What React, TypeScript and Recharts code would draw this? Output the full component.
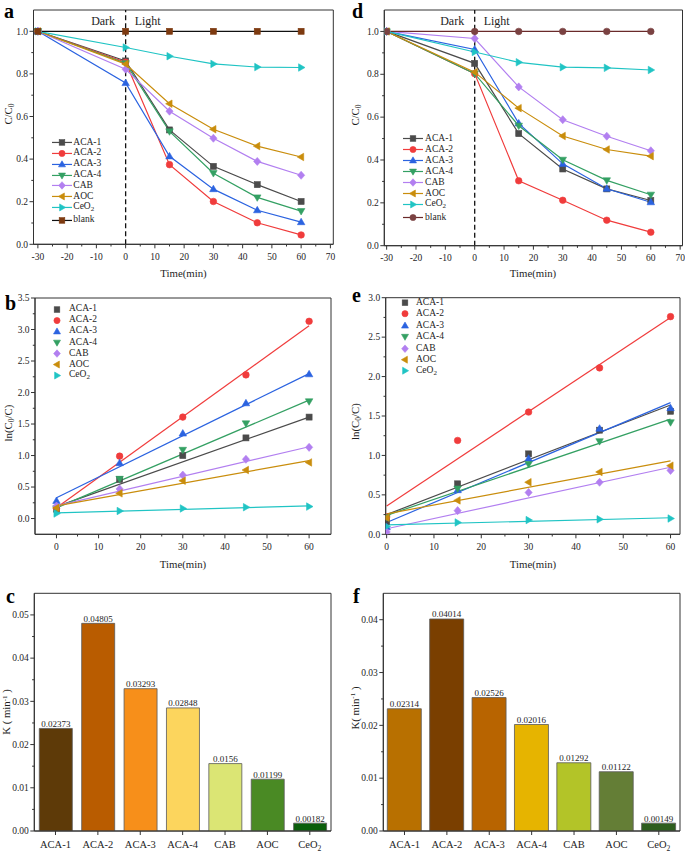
import React from 'react';
import {
  LineChart, Line, ComposedChart, Scatter, BarChart, Bar, Cell, LabelList,
  XAxis, YAxis, ReferenceLine, ReferenceArea, Legend,
} from 'recharts';

type Shape = 'square' | 'circle' | 'up' | 'down' | 'diamond' | 'left' | 'right';

const FONT = '"Liberation Serif", "Times New Roman", serif';
const INK = '#1e1e1e';
const AXIS = '#333';

const sampleNames = ['ACA-1', 'ACA-2', 'ACA-3', 'ACA-4', 'CAB', 'AOC', 'CeO2'];
const seriesColors = ['#4b4b4b', '#f03c3c', '#2b63e0', '#34a063', '#b27ff0', '#c98d0c', '#20c4c4'];
const seriesShapes: Shape[] = ['square', 'circle', 'up', 'down', 'diamond', 'left', 'right'];

// a / d : C/C0 vs time (dark from -30 min, light on at 0)
const timesAD = [-30, 0, 15, 30, 45, 60];
const ratioA = [
  [1.0, 0.861, 0.537, 0.366, 0.28, 0.201],
  [1.0, 0.855, 0.374, 0.201, 0.101, 0.044],
  [1.0, 0.757, 0.413, 0.259, 0.16, 0.104],
  [1.0, 0.85, 0.53, 0.334, 0.22, 0.156],
  [1.0, 0.822, 0.625, 0.498, 0.389, 0.324],
  [1.0, 0.846, 0.66, 0.54, 0.461, 0.41],
  [1.0, 0.924, 0.883, 0.847, 0.832, 0.83],
];
const blankA = [1, 1, 1, 1, 1, 1];
const ratioD = [
  [1.0, 0.851, 0.523, 0.358, 0.265, 0.211],
  [1.0, 0.803, 0.303, 0.212, 0.119, 0.063],
  [1.0, 0.916, 0.571, 0.382, 0.266, 0.203],
  [1.0, 0.803, 0.56, 0.401, 0.305, 0.238],
  [1.0, 0.967, 0.741, 0.588, 0.511, 0.443],
  [1.0, 0.81, 0.642, 0.512, 0.449, 0.418],
  [1.0, 0.904, 0.856, 0.833, 0.83, 0.82],
];
const blankD = [1, 1, 1, 1, 1, 1];

// b / e : ln(C0/C) points and fitted lines (value at 0 and 60 min)
const timesBE = [0, 15, 30, 45, 60];
const lnB = [
  [0.15, 0.62, 1.0, 1.28, 1.61],
  [0.16, 0.99, 1.61, 2.28, 3.13],
  [0.28, 0.88, 1.35, 1.83, 2.29],
  [0.16, 0.63, 1.09, 1.51, 1.86],
  [0.2, 0.47, 0.69, 0.94, 1.13],
  [0.17, 0.4, 0.6, 0.77, 0.89],
  [0.08, 0.12, 0.16, 0.18, 0.19],
];
const lnE = [
  [0.16, 0.64, 1.02, 1.32, 1.56],
  [0.22, 1.19, 1.55, 2.11, 2.76],
  [0.09, 0.56, 0.96, 1.34, 1.6],
  [0.22, 0.58, 0.89, 1.18, 1.42],
  [0.03, 0.3, 0.53, 0.66, 0.81],
  [0.21, 0.43, 0.66, 0.79, 0.87],
  [0.1, 0.15, 0.18, 0.19, 0.2],
];
const fitTimes = [0, 60];
const fitB = [[0.19, 1.61], [0.17, 3.06], [0.33, 2.3], [0.17, 1.88], [0.2, 1.14], [0.2, 0.92], [0.09, 0.2]];
const fitE = [[0.25, 1.64], [0.36, 2.75], [0.15, 1.67], [0.24, 1.46], [0.07, 0.85], [0.26, 0.93], [0.12, 0.21]];

// c / f : rate constants
const rateC = [0.02373, 0.04805, 0.03293, 0.02848, 0.0156, 0.01199, 0.00182];
const rateF = [0.02314, 0.04014, 0.02526, 0.02016, 0.01292, 0.01122, 0.00149];
const barColorsC = ['#5e3a08', '#b95c00', '#f78f1a', '#fcd55d', '#dbe574', '#4a8a24', '#0b5e0b'];
const barColorsF = ['#b87000', '#7a3f00', '#b86400', '#e6b400', '#b3c428', '#647e36', '#2e5e1e'];

// ticks
const timeMajors = [-30, -20, -10, 0, 10, 20, 30, 40, 50, 60, 70];
const timeMinors = [-25, -15, -5, 5, 15, 25, 35, 45, 55, 65];
const ratioMajors = [0, 0.2, 0.4, 0.6, 0.8, 1.0];
const ratioMinors = [0.1, 0.3, 0.5, 0.7, 0.9];
const kinMajors = [0, 10, 20, 30, 40, 50, 60];
const kinMinors = [5, 15, 25, 35, 45, 55];
const lnMajorsB = [0, 0.5, 1, 1.5, 2, 2.5, 3, 3.5];
const lnMinorsB = [0.25, 0.75, 1.25, 1.75, 2.25, 2.75, 3.25];
const lnMajorsE = [0, 0.5, 1, 1.5, 2, 2.5, 3];
const lnMinorsE = [0.25, 0.75, 1.25, 1.75, 2.25, 2.75];
const rateMajorsC = [0, 0.01, 0.02, 0.03, 0.04, 0.05];
const rateMinorsC = [0.005, 0.015, 0.025, 0.035, 0.045];
const rateMajorsF = [0, 0.01, 0.02, 0.03, 0.04];
const rateMinorsF = [0.005, 0.015, 0.025, 0.035];

function Marker({ cx, cy, shape, fill, r = 3 }: { cx?: number; cy?: number; shape: Shape; fill: string; r?: number }) {
  if (cx == null || cy == null) return null;
  const st = { fill, stroke: fill, strokeWidth: 0.6 };
  switch (shape) {
    case 'square':
      return <rect x={cx - r} y={cy - r} width={2 * r} height={2 * r} {...st} />;
    case 'circle':
      return <circle cx={cx} cy={cy} r={r + 0.3} {...st} />;
    case 'up':
      return <polygon points={`${cx},${cy - r * 1.3} ${cx - r * 1.25},${cy + r * 0.85} ${cx + r * 1.25},${cy + r * 0.85}`} {...st} />;
    case 'down':
      return <polygon points={`${cx},${cy + r * 1.3} ${cx - r * 1.25},${cy - r * 0.85} ${cx + r * 1.25},${cy - r * 0.85}`} {...st} />;
    case 'diamond':
      return <polygon points={`${cx},${cy - r * 1.35} ${cx + r * 1.2},${cy} ${cx},${cy + r * 1.35} ${cx - r * 1.2},${cy}`} {...st} />;
    case 'left':
      return <polygon points={`${cx - r * 1.3},${cy} ${cx + r * 0.85},${cy - r * 1.25} ${cx + r * 0.85},${cy + r * 1.25}`} {...st} />;
    default:
      return <polygon points={`${cx + r * 1.3},${cy} ${cx - r * 0.85},${cy - r * 1.25} ${cx - r * 0.85},${cy + r * 1.25}`} {...st} />;
  }
}

function chem(name: string, size: number) {
  if (name !== 'CeO2') return name;
  return <>CeO<tspan dy={size * 0.3} fontSize={size * 0.72}>2</tspan></>;
}

function BottomTick({ x, y, payload, majors, fmt }: any) {
  const major = majors.includes(payload.value);
  return (
    <g>
      <line x1={x} x2={x} y1={y} y2={y + (major ? 4 : 2.2)} stroke={AXIS} />
      {major && (
        <text x={x} y={y + 15.3} textAnchor="middle" fontSize={9.5} fontFamily={FONT} fill={INK}>{fmt(payload.value)}</text>
      )}
    </g>
  );
}

function LeftTick({ x, y, payload, majors, fmt }: any) {
  const major = majors.includes(payload.value);
  return (
    <g>
      <line x1={x} x2={x - (major ? 4 : 2.2)} y1={y} y2={y} stroke={AXIS} />
      {major && (
        <text x={x - 5.5} y={y + 3.2} textAnchor="end" fontSize={9.5} fontFamily={FONT} fill={INK}>{fmt(payload.value)}</text>
      )}
    </g>
  );
}

function CategoryTick({ x, y, payload }: any) {
  return (
    <g>
      <line x1={x} x2={x} y1={y} y2={y + 4} stroke={AXIS} />
      <text x={x} y={y + 17} textAnchor="middle" fontSize={10.5} fontFamily={FONT} fill={INK}>{chem(payload.value, 10.5)}</text>
    </g>
  );
}

function DarkLight({ viewBox }: any) {
  if (!viewBox) return null;
  const { x, y } = viewBox;
  return (
    <g fontFamily={FONT} fontSize={12} fill={INK}>
      <text x={x - 10.5} y={y + 15} textAnchor="end">Dark</text>
      <text x={x + 9} y={y + 15}>Light</text>
    </g>
  );
}

interface LegendItem { name: string; fill: string; line: string; shape: Shape; extra?: number }

function LegendBox({ items, rowH, iconW, gap, withLine }: { items: LegendItem[]; rowH: number; iconW: number; gap: number; withLine: boolean }) {
  return (
    <div style={{ fontFamily: FONT, fontSize: 9.5, color: INK }}>
      {items.map((it) => (
        <div key={it.name} style={{ display: 'flex', alignItems: 'center', height: rowH, marginTop: it.extra ?? 0 }}>
          <svg width={iconW} height={rowH} style={{ display: 'block', overflow: 'visible' }}>
            {withLine && <line x1={0} x2={iconW} y1={rowH / 2} y2={rowH / 2} stroke={it.line} strokeWidth={1.2} />}
            <Marker cx={iconW / 2} cy={rowH / 2} shape={it.shape} fill={it.fill} r={2.8} />
          </svg>
          <span style={{ marginLeft: gap, lineHeight: 1, whiteSpace: 'nowrap' }}>
            {it.name === 'CeO2' ? <>CeO<sub style={{ fontSize: 7, verticalAlign: '-2px' }}>2</sub></> : it.name}
          </span>
        </div>
      ))}
    </div>
  );
}

interface CourseProps {
  ratios: number[][];
  blank: number[];
  blankLine: string;
  blankFill: string;
  blankShape: Shape;
  width: number;
  height: number;
  top: number;
  right: number;
  yAxisWidth: number;
  xAxisHeight: number;
  xDomain: [number, number];
  legendLeft: number;
  legendTop: number;
  legendRow: number;
  blankExtra: number;
}

function TimeCourse(p: CourseProps) {
  const rows = timesAD.map((t, i) => {
    const row: Record<string, number> = { t, blank: p.blank[i] };
    p.ratios.forEach((vals, j) => { row[`s${j}`] = vals[i]; });
    return row;
  });
  const items: LegendItem[] = sampleNames.map((name, j) => ({ name, fill: seriesColors[j], line: seriesColors[j], shape: seriesShapes[j] }));
  items.push({ name: 'blank', fill: p.blankFill, line: p.blankLine, shape: p.blankShape, extra: p.blankExtra });

  return (
    <LineChart width={p.width} height={p.height} data={rows} margin={{ top: p.top, right: p.right, bottom: 0, left: 0 }}>
      <ReferenceArea y1={0} y2={1.1} fill="none" stroke={AXIS} ifOverflow="visible" />
      <XAxis
        type="number" dataKey="t" domain={p.xDomain} allowDataOverflow
        ticks={[...timeMajors, ...timeMinors]} interval={0}
        tickSize={0} tickMargin={0} tickLine={false} axisLine={{ stroke: AXIS }} height={p.xAxisHeight}
        tick={(t: any) => <BottomTick {...t} majors={timeMajors} fmt={(v: number) => String(v)} />}
      />
      <YAxis
        type="number" domain={[0, 1.1]} allowDataOverflow
        ticks={[...ratioMajors, ...ratioMinors]} interval={0}
        tickSize={0} tickMargin={0} tickLine={false} axisLine={{ stroke: AXIS }} width={p.yAxisWidth}
        tick={(t: any) => <LeftTick {...t} majors={ratioMajors} fmt={(v: number) => v.toFixed(1)} />}
      />
      <ReferenceLine x={0} stroke="#111" strokeWidth={1.3} strokeDasharray="5 3" label={<DarkLight />} />
      {p.ratios.map((_, j) => (
        <Line
          key={j} dataKey={`s${j}`} name={sampleNames[j]} stroke={seriesColors[j]} strokeWidth={1.2}
          dot={(d: any) => <Marker key={d.index} cx={d.cx} cy={d.cy} shape={seriesShapes[j]} fill={seriesColors[j]} />}
          activeDot={false} isAnimationActive={false}
        />
      ))}
      <Line
        dataKey="blank" name="blank" stroke={p.blankLine} strokeWidth={1.2}
        dot={(d: any) => <Marker key={d.index} cx={d.cx} cy={d.cy} shape={p.blankShape} fill={p.blankFill} />}
        activeDot={false} isAnimationActive={false}
      />
      <Legend
        layout="vertical" align="center" verticalAlign="middle"
        wrapperStyle={{ left: p.legendLeft, top: p.legendTop, width: 90, height: 'auto' }}
        content={() => <LegendBox items={items} rowH={p.legendRow} iconW={20} gap={1.8} withLine />}
      />
    </LineChart>
  );
}

interface KineticsProps {
  points: number[][];
  fits: number[][];
  width: number;
  height: number;
  top: number;
  right: number;
  yAxisWidth: number;
  xAxisHeight: number;
  xDomain: [number, number];
  yDomain: [number, number];
  yMajors: number[];
  yMinors: number[];
  legendLeft: number;
  legendTop: number;
  legendRow: number;
  legendGap: number;
}

function Kinetics(p: KineticsProps) {
  const items: LegendItem[] = sampleNames.map((name, j) => ({ name, fill: seriesColors[j], line: seriesColors[j], shape: seriesShapes[j] }));
  return (
    <ComposedChart width={p.width} height={p.height} margin={{ top: p.top, right: p.right, bottom: 0, left: 0 }}>
      <ReferenceArea y1={p.yDomain[0]} y2={p.yDomain[1]} fill="none" stroke={AXIS} ifOverflow="visible" />
      <XAxis
        type="number" dataKey="t" domain={p.xDomain} allowDataOverflow
        ticks={[...kinMajors, ...kinMinors]} interval={0}
        tickSize={0} tickMargin={0} tickLine={false} axisLine={{ stroke: AXIS }} height={p.xAxisHeight}
        tick={(t: any) => <BottomTick {...t} majors={kinMajors} fmt={(v: number) => String(v)} />}
      />
      <YAxis
        type="number" domain={p.yDomain} allowDataOverflow
        ticks={[...p.yMajors, ...p.yMinors]} interval={0}
        tickSize={0} tickMargin={0} tickLine={false} axisLine={{ stroke: AXIS }} width={p.yAxisWidth}
        tick={(t: any) => <LeftTick {...t} majors={p.yMajors} fmt={(v: number) => v.toFixed(1)} />}
      />
      {p.fits.map((ends, j) => (
        <Line
          key={`fit${j}`} data={fitTimes.map((t, i) => ({ t, v: ends[i] }))} dataKey="v"
          stroke={seriesColors[j]} strokeWidth={1.2} dot={false} activeDot={false}
          legendType="none" isAnimationActive={false}
        />
      ))}
      {p.points.map((vals, j) => (
        <Scatter
          key={`pts${j}`} name={sampleNames[j]} data={timesBE.map((t, i) => ({ t, v: vals[i] }))} dataKey="v"
          shape={(s: any) => <Marker cx={s.cx} cy={s.cy} shape={seriesShapes[j]} fill={seriesColors[j]} />}
          isAnimationActive={false}
        />
      ))}
      <Legend
        layout="vertical" align="center" verticalAlign="middle"
        wrapperStyle={{ left: p.legendLeft, top: p.legendTop, width: 80, height: 'auto' }}
        content={() => <LegendBox items={items} rowH={p.legendRow} iconW={10} gap={p.legendGap} withLine={false} />}
      />
    </ComposedChart>
  );
}

interface RateProps {
  rates: number[];
  colors: string[];
  width: number;
  height: number;
  top: number;
  right: number;
  yAxisWidth: number;
  yMax: number;
  yMajors: number[];
  yMinors: number[];
  barSize: number;
}

function RateBars(p: RateProps) {
  const rows = sampleNames.map((name, i) => ({ name, k: p.rates[i] }));
  return (
    <BarChart width={p.width} height={p.height} data={rows} margin={{ top: p.top, right: p.right, bottom: 0, left: 0 }}>
      <ReferenceArea y1={0} y2={p.yMax} fill="none" stroke={AXIS} ifOverflow="visible" />
      <XAxis
        dataKey="name" interval={0} tickSize={0} tickMargin={0} tickLine={false}
        axisLine={{ stroke: AXIS }} height={23} tick={(t: any) => <CategoryTick {...t} />}
      />
      <YAxis
        type="number" domain={[0, p.yMax]} allowDataOverflow
        ticks={[...p.yMajors, ...p.yMinors]} interval={0}
        tickSize={0} tickMargin={0} tickLine={false} axisLine={{ stroke: AXIS }} width={p.yAxisWidth}
        tick={(t: any) => <LeftTick {...t} majors={p.yMajors} fmt={(v: number) => v.toFixed(2)} />}
      />
      <Bar dataKey="k" barSize={p.barSize} stroke="#5a5a5a" strokeWidth={0.8} isAnimationActive={false}>
        {rows.map((r, i) => <Cell key={r.name} fill={p.colors[i]} />)}
        <LabelList dataKey="k" position="top" offset={1.5} fontSize={9} fill={INK} fontFamily={FONT} />
      </Bar>
    </BarChart>
  );
}

function Annotations() {
  const letter = { fontFamily: FONT, fontSize: 20, fontWeight: 700, fill: '#000' };
  const title = { fontFamily: FONT, fontSize: 10.8, fill: INK };
  return (
    <svg width={685} height={854} style={{ position: 'absolute', left: 0, top: 0, pointerEvents: 'none' }}>
      <text x={4} y={18} {...letter}>a</text>
      <text x={352} y={18} {...letter}>d</text>
      <text x={5} y={310} {...letter}>b</text>
      <text x={352} y={302} {...letter}>e</text>
      <text x={6} y={603} {...letter}>c</text>
      <text x={353} y={603} {...letter}>f</text>

      <text x={183.5} y={277} textAnchor="middle" {...title}>Time(min)</text>
      <text x={533} y={277} textAnchor="middle" {...title}>Time(min)</text>
      <text x={183} y={567.5} textAnchor="middle" {...title}>Time(min)</text>
      <text x={533} y={567.5} textAnchor="middle" {...title}>Time(min)</text>

      <text transform="translate(11.8,114) rotate(-90)" textAnchor="middle" {...title}>C/C<tspan dy={2.5} fontSize={7.5}>0</tspan></text>
      <text transform="translate(358.5,115) rotate(-90)" textAnchor="middle" {...title}>C/C<tspan dy={2.5} fontSize={7.5}>0</tspan></text>
      <text transform="translate(11.8,423) rotate(-90)" textAnchor="middle" {...title}>
        ln(C<tspan dy={2.5} fontSize={7.5}>0</tspan><tspan dy={-2.5}>/C)</tspan>
      </text>
      <text transform="translate(358.8,421.5) rotate(-90)" textAnchor="middle" {...title}>
        ln(C<tspan dy={2.5} fontSize={7.5}>0</tspan><tspan dy={-2.5}>/C)</tspan>
      </text>
      <text transform="translate(10.2,712) rotate(-90)" textAnchor="middle" {...title}>
        K ( min<tspan dy={-3.5} fontSize={7}>-1</tspan><tspan dy={3.5}> )</tspan>
      </text>
      <text transform="translate(358.8,708) rotate(-90)" textAnchor="middle" {...title}>
        K( min<tspan dy={-3.5} fontSize={7}>-1</tspan><tspan dy={3.5}> )</tspan>
      </text>
    </svg>
  );
}

export default function App() {
  return (
    <div style={{ position: 'absolute', left: 0, top: 0, width: 685, height: 854, background: '#fff', fontFamily: FONT }}>
      <div style={{ position: 'absolute', left: 0, top: 0 }}>
        <TimeCourse
          ratios={ratioA} blank={blankA} blankLine="#111" blankFill="#7d3a10" blankShape="square"
          width={340} height={275} top={10} right={6.7} yAxisWidth={33.5} xAxisHeight={30.7} xDomain={[-31.5, 71]}
          legendLeft={51.5} legendTop={136.9} legendRow={10.9} blankExtra={1.4}
        />
      </div>
      <div style={{ position: 'absolute', left: 340, top: 0 }}>
        <TimeCourse
          ratios={ratioD} blank={blankD} blankLine="#6a2a2a" blankFill="#7a4242" blankShape="circle"
          width={345} height={275} top={10} right={2.5} yAxisWidth={44.3} xAxisHeight={29.3} xDomain={[-30.8, 70.8]}
          legendLeft={63.3} legendTop={132.8} legendRow={11} blankExtra={2}
        />
      </div>
      <div style={{ position: 'absolute', left: 0, top: 275 }}>
        <Kinetics
          points={lnB} fits={fitB} width={340} height={295} top={23} right={9} yAxisWidth={35} xAxisHeight={35.7}
          xDomain={[-5.1, 65.2]} yDomain={[-0.25, 3.5]} yMajors={lnMajorsB} yMinors={lnMinorsB}
          legendLeft={52} legendTop={28.5} legendRow={11.1} legendGap={7}
        />
      </div>
      <div style={{ position: 'absolute', left: 340, top: 275 }}>
        <Kinetics
          points={lnE} fits={fitE} width={345} height={295} top={22.7} right={5} yAxisWidth={45.7} xAxisHeight={35.7}
          xDomain={[-0.2, 62]} yDomain={[0, 3]} yMajors={lnMajorsE} yMinors={lnMinorsE}
          legendLeft={60.3} legendTop={22} legendRow={11.4} legendGap={5.7}
        />
      </div>
      <div style={{ position: 'absolute', left: 0, top: 560 }}>
        <RateBars
          rates={rateC} colors={barColorsC} width={340} height={294} top={33.3} right={9} yAxisWidth={34.3}
          yMax={0.055} yMajors={rateMajorsC} yMinors={rateMinorsC} barSize={33}
        />
      </div>
      <div style={{ position: 'absolute', left: 340, top: 560 }}>
        <RateBars
          rates={rateF} colors={barColorsF} width={345} height={294} top={33.3} right={5} yAxisWidth={43.3}
          yMax={0.045} yMajors={rateMajorsF} yMinors={rateMinorsF} barSize={34}
        />
      </div>
      <Annotations />
    </div>
  );
}
